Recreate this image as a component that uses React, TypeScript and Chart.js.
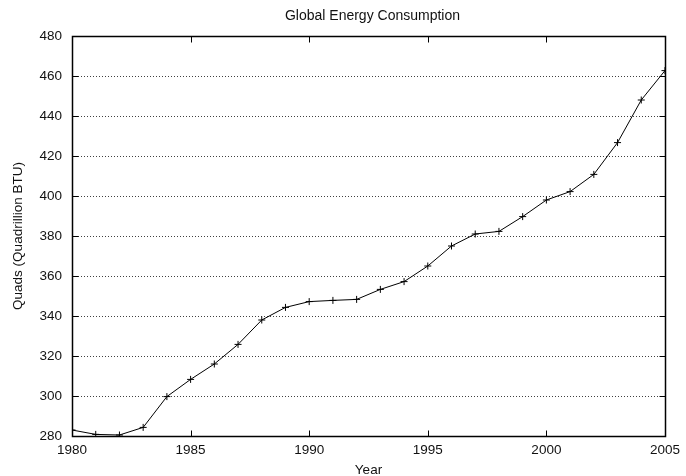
import React, { useEffect, useRef } from 'react';
import { Chart, registerables } from 'chart.js';

Chart.register(...registerables);

const years = [1980, 1981, 1982, 1983, 1984, 1985, 1986, 1987, 1988, 1989, 1990, 1991, 1992, 1993, 1994, 1995, 1996, 1997, 1998, 1999, 2000, 2001, 2002, 2003, 2004, 2005];
const quads = [283.0, 280.8, 280.5, 284.3, 299.7, 308.3, 316.0, 325.8, 338.0, 344.3, 347.2, 347.8, 348.3, 353.3, 357.2, 365.0, 375.0, 381.0, 382.3, 389.7, 398.0, 402.2, 410.8, 426.7, 448.0, 462.7];
const xTickValues = [1980, 1985, 1990, 1995, 2000, 2005];
const yTickValues = [280, 300, 320, 340, 360, 380, 400, 420, 440, 460, 480];
const chartTitle = 'Global Energy Consumption';
const xAxisTitle = 'Year';
const yAxisTitle = 'Quads (Quadrillion BTU)';

const FONT_FAMILY = '"Liberation Sans", Arial, Helvetica, sans-serif';
const TEXT_COLOR = '#111';

const framePlugin = {
  id: 'gnuplotFrame',
  beforeDatasetsDraw(chart: any) {
    const { ctx, chartArea } = chart;
    const { left, right } = chartArea;
    const yScale = chart.scales.y;
    ctx.save();
    ctx.strokeStyle = 'rgba(0,0,0,0.75)';
    ctx.lineWidth = 1;
    ctx.setLineDash([1, 2]);
    yTickValues.forEach((v) => {
      if (v === yTickValues[0] || v === yTickValues[yTickValues.length - 1]) return;
      const py = Math.round(yScale.getPixelForValue(v)) + 0.5;
      ctx.beginPath();
      ctx.moveTo(left, py);
      ctx.lineTo(right, py);
      ctx.stroke();
    });
    ctx.restore();
  },
  afterDraw(chart: any) {
    const { ctx, chartArea } = chart;
    const { left, right, top, bottom } = chartArea;
    const xScale = chart.scales.x;
    const yScale = chart.scales.y;
    const L = Math.round(left) + 0.5;
    const R = Math.round(right) + 0.5;
    const T = Math.round(top) + 0.5;
    const B = Math.round(bottom) + 0.5;
    ctx.save();
    ctx.strokeStyle = '#000';
    ctx.setLineDash([]);
    ctx.lineWidth = 1.5;
    ctx.strokeRect(Math.round(left) + 0.5, Math.round(top) + 0.5, Math.round(right) - Math.round(left), Math.round(bottom) - Math.round(top));
    ctx.lineWidth = 1;
    const tl = 6;
    ctx.beginPath();
    xTickValues.forEach((v) => {
      const px = Math.round(xScale.getPixelForValue(v)) + 0.5;
      ctx.moveTo(px, B);
      ctx.lineTo(px, B - tl);
      ctx.moveTo(px, T);
      ctx.lineTo(px, T + tl);
    });
    yTickValues.forEach((v) => {
      const py = Math.round(yScale.getPixelForValue(v)) + 0.5;
      ctx.moveTo(L, py);
      ctx.lineTo(L + tl, py);
      ctx.moveTo(R, py);
      ctx.lineTo(R - tl, py);
    });
    ctx.stroke();

    ctx.fillStyle = TEXT_COLOR;
    ctx.textAlign = 'center';
    ctx.textBaseline = 'middle';
    ctx.font = `14px ${FONT_FAMILY}`;
    const cx = (left + right) / 2;
    ctx.fillText(chartTitle, cx + 4, 16);
    ctx.font = `13.5px ${FONT_FAMILY}`;
    ctx.fillText(xAxisTitle, cx, 470);
    ctx.save();
    ctx.translate(18, (top + bottom) / 2);
    ctx.rotate(-Math.PI / 2);
    ctx.fillText(yAxisTitle, 0, 0);
    ctx.restore();
    ctx.restore();
  },
};

export default function App() {
  const canvasRef = useRef<HTMLCanvasElement | null>(null);

  useEffect(() => {
    const canvas = canvasRef.current;
    if (!canvas) return;
    const chart = new Chart(canvas, {
      type: 'line',
      data: {
        datasets: [
          {
            label: chartTitle,
            data: years.map((yr, i) => ({ x: yr, y: quads[i] })),
            borderColor: '#000',
            backgroundColor: '#000',
            borderWidth: 1,
            tension: 0,
            fill: false,
            pointStyle: 'cross',
            pointRadius: 3.5,
            pointBorderWidth: 1,
            pointBorderColor: '#000',
          },
        ],
      },
      options: {
        animation: false,
        responsive: false,
        maintainAspectRatio: false,
        devicePixelRatio: 1,
        layout: { padding: { left: 0, right: 18, top: 36, bottom: 0 } },
        plugins: {
          legend: { display: false },
          title: { display: false },
          tooltip: { enabled: false },
        },
        scales: {
          x: {
            type: 'linear',
            min: 1980,
            max: 2005,
            afterBuildTicks: (scale: any) => {
              scale.ticks = xTickValues.map((v) => ({ value: v }));
            },
            afterFit: (scale: any) => {
              scale.height = 40;
            },
            grid: { display: false, drawTicks: false },
            border: { display: false },
            ticks: {
              padding: 6,
              color: TEXT_COLOR,
              font: { family: FONT_FAMILY, size: 13.5 },
              maxRotation: 0,
              autoSkip: false,
              callback: (v: any) => String(v),
            },
          },
          y: {
            type: 'linear',
            min: 280,
            max: 480,
            afterBuildTicks: (scale: any) => {
              scale.ticks = yTickValues.map((v) => ({ value: v }));
            },
            afterFit: (scale: any) => {
              scale.width = 72;
            },
            grid: { display: false, drawTicks: false },
            border: { display: false },
            ticks: {
              padding: 10,
              color: TEXT_COLOR,
              font: { family: FONT_FAMILY, size: 13.5 },
              callback: (v: any) => String(v),
            },
          },
        },
      },
      plugins: [framePlugin],
    });
    return () => chart.destroy();
  }, []);

  return (
    <div style={{ position: 'absolute', left: 0, top: 0, width: 686, height: 476, background: '#fff' }}>
      <canvas ref={canvasRef} width={686} height={476} style={{ display: 'block' }} />
    </div>
  );
}
